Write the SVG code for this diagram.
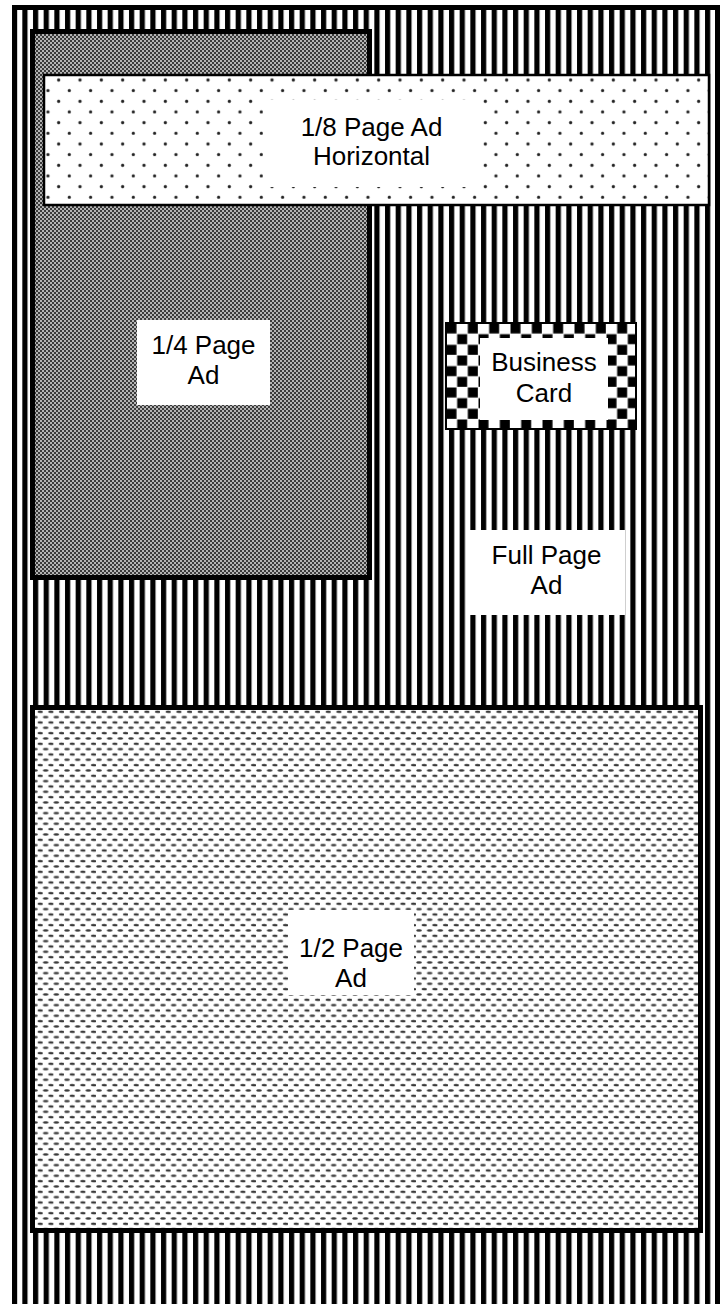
<svg xmlns="http://www.w3.org/2000/svg" width="723" height="1304" viewBox="0 0 723 1304">
<style>
.lbl{font-family:"Liberation Sans",Arial,sans-serif;font-size:26px;fill:#000;text-anchor:middle}
.box{fill:#fff}
.frame{stroke:#000}
</style>
<defs>
<pattern id="stripes" patternUnits="userSpaceOnUse" x="0" y="0" width="10.667" height="10.667">
<rect width="10.667" height="10.667" fill="#fff"/>
<rect x="1" width="5.2" height="10.667" fill="#000"/>
</pattern>
<pattern id="fine" patternUnits="userSpaceOnUse" width="4" height="4">
<rect width="4" height="4" fill="#3a3a3a"/>
<rect width="2" height="2" fill="#b4b4b4"/>
<rect x="2" y="2" width="2" height="2" fill="#b4b4b4"/>
</pattern>
<pattern id="dots" patternUnits="userSpaceOnUse" width="21.333" height="21.333">
<rect width="21.333" height="21.333" fill="#fff"/>
<circle cx="5.3" cy="5.3" r="1.6" fill="#222"/>
<circle cx="16" cy="16" r="1.6" fill="#222"/>
</pattern>
<pattern id="dashes" patternUnits="userSpaceOnUse" width="10.667" height="10.667">
<rect width="10.667" height="10.667" fill="#fff"/>
<ellipse cx="3" cy="2.5" rx="2.8" ry="1.25" fill="#3a3a3a"/>
<ellipse cx="8.33" cy="7.83" rx="2.8" ry="1.25" fill="#3a3a3a"/>
</pattern>
<pattern id="checker" patternUnits="userSpaceOnUse" x="446" y="323" width="21.333" height="21.333">
<rect width="21.333" height="21.333" fill="#fff"/>
<rect x="0.5" y="0.5" width="10" height="10" fill="#000"/>
<rect x="11.17" y="11.17" width="10" height="10" fill="#000"/>
</pattern>
</defs>

<g id="full-page">
<rect x="14.5" y="7.5" width="703" height="1310" fill="url(#stripes)" class="frame" stroke-width="5"/>
</g>

<g id="quarter-page">
<rect x="32.5" y="31.5" width="337" height="546" fill="url(#fine)" class="frame" stroke-width="5"/>
</g>

<g id="eighth-page">
<rect x="44" y="75" width="665" height="130" fill="url(#dots)" class="frame" stroke-width="2.5"/>
</g>

<g id="business-card">
<rect x="446" y="323" width="190" height="106" fill="url(#checker)" class="frame" stroke-width="2"/>
</g>

<g id="half-page">
<rect x="32.5" y="707.5" width="668" height="523" fill="url(#dashes)" class="frame" stroke-width="5"/>
</g>

<g id="label-eighth">
<rect class="box" x="263" y="100" width="217" height="87"/>
<text class="lbl" x="371.5" y="136">1/8 Page Ad</text>
<text class="lbl" x="371.5" y="165">Horizontal</text>
</g>

<g id="label-quarter">
<rect class="box" x="137" y="320" width="133" height="85"/>
<text class="lbl" x="203.5" y="354">1/4 Page</text>
<text class="lbl" x="203.5" y="384">Ad</text>
</g>

<g id="label-business">
<rect class="box" x="480" y="338" width="128" height="82"/>
<text class="lbl" x="544" y="371">Business</text>
<text class="lbl" x="544" y="402">Card</text>
</g>

<g id="label-full">
<rect class="box" x="468" y="530" width="157" height="85"/>
<text class="lbl" x="546.5" y="564">Full Page</text>
<text class="lbl" x="546.5" y="594">Ad</text>
</g>

<g id="label-half">
<rect class="box" x="288" y="910" width="126" height="85"/>
<text class="lbl" x="351" y="957">1/2 Page</text>
<text class="lbl" x="351" y="987">Ad</text>
</g>

<g id="connectors"></g>
</svg>
